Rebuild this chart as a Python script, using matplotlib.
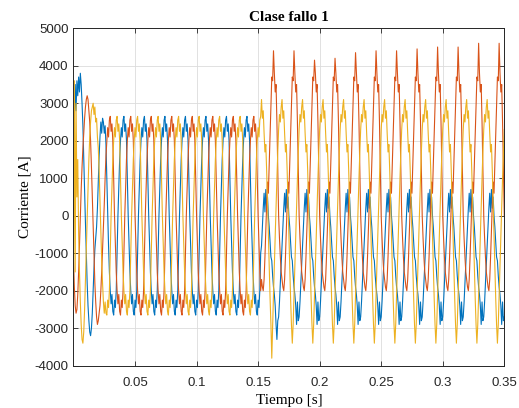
import numpy as np
import matplotlib.pyplot as plt

# Corrientes de fase, 24 muestras por ciclo de 60 Hz
fs = 1440
n_ciclo = 24
t_fin = 0.35
muestra_falla = 220

# Ciclo tipo antes de la falla [A], desde el cruce por cero ascendente
ciclo_pre = [0, 800, 1500, 2000, 2350, 2100, 2550, 2650, 2250, 2450, 2000, 1000,
             0, -800, -1500, -2000, -2350, -2100, -2550, -2650, -2250, -2450, -2000, -1000]
desfase_ia, desfase_ib, desfase_ic = 4, 12, 20

# Ciclo tipo durante la falla [A], muestra 0 = inicio de ciclo
ia_post = [-2700, -2300, -1800, -1300, -800, -300, 200, 600, 100, 700, 200, 500,
           0, -300, -700, -1100, -1200, -1600, -1900, -2100, -2400, -2900, -2300, -2800]
ib_post = [0, -600, -1100, -1500, -1700, -1900, -2000, -1700, -1100, -400, 300, 900,
           600, 1400, 2200, 3000, 3700, 3600, 4400, 3800, 3300, 3500, 2500, 1200]
ic_post = [2300, 2700, 2500, 2900, 3100, 2600, 2800, 2200, 1700, 1900, 1200, 400,
           -500, -1400, -2200, -2900, -3400, -2900, -2100, -1300, -500, 300, 1000, 1700]

# Picos de la fase B en cada ciclo con falla (ciclos 9 a 20)
picos_ib_post = [4400, 4400, 4150, 4200, 4350, 4400, 4400, 4450, 4500, 4500, 4600, 4600]
valle_ic_falla = -3800
valle_ia_falla = -3300

# Transitorio de arranque (dos primeros ciclos)
ia_arranque = [500, 2500, 3500, 2800, 3600, 3200, 3700, 3300, 3800, 3500, 3000, 2400,
               1500, 700, -200, -1000, -1800, -2400, -2800, -3100, -3200, -3000, -2600, -2000,
               -1400, -900, -600, -300, 200, 900, 1600, 2100, 2500, 2200, 2600, 2500,
               2200, 2400, 1900, 1000, 0, -800, -1500, -2000, -2350, -2100, -2550, -2650]
ib_arranque = [-1200, -1900, -2400, -2600, -2500, -2100, -1500, -800, 0, 700, 1300, 1800,
               2200, 2600, 2900, 3100, 3200, 3100, 2800, 2500, 2000, 1300, 500, -300,
               -1100, -1800, -2300, -2700, -2900, -2800, -2600, -2400, -2000, -1500, -900, -300,
               300, 1000, 1600, 2000, 2350, 2100, 2550, 2650, 2250, 2450, 2000, 1000]
ic_arranque = [-2000, 3600, -1500, 3000, 500, 1500, -500, -1500, -2300, -2900, -3300, -3400,
               -3100, -2500, -1700, -900, 0, 800, 1500, 2100, 2500, 2800, 2900, 3000,
               2700, 2900, 2500, 2600, 2100, 1800, 1200, 400, -400, -1200, -1800, -2300,
               -2600, -2300, -2600, -2650, -2250, -2450, -2000, -1000, 0, 800, 1500, 2000]

n = int(round(t_fin * fs)) + 1
idx = np.arange(n)
t = idx / fs
k = idx % n_ciclo
pre = idx < muestra_falla


def fase(desfase, post, arranque):
    i = np.where(pre, np.roll(ciclo_pre, desfase)[k], np.array(post)[k]).astype(float)
    i[:len(arranque)] = arranque
    return i


ia = fase(desfase_ia, ia_post, ia_arranque)
ib = fase(desfase_ib, ib_post, ib_arranque)
ic = fase(desfase_ic, ic_post, ic_arranque)
ib[n_ciclo * np.arange(9, 21) + 18] = picos_ib_post
ic[9 * n_ciclo + 16] = valle_ic_falla
ia[9 * n_ciclo + 22] = valle_ia_falla

plt.rcParams['font.family'] = 'Liberation Sans'
plt.rcParams['axes.unicode_minus'] = False

fig = plt.figure(figsize=(5.19, 4.08), dpi=100)
ax = fig.add_axes([0.1416, 0.1037, 0.830, 0.827])

ax.plot(t, ia, color='#0072BD', lw=0.8)
ax.plot(t, ib, color='#D95319', lw=0.8)
ax.plot(t, ic, color='#EDB120', lw=0.8)

ax.set_xlim(0, 0.35)
ax.set_ylim(-4000, 5000)
ax.set_xticks([0.05, 0.1, 0.15, 0.2, 0.25, 0.3, 0.35])
ax.set_xticklabels(['0.05', '0.1', '0.15', '0.2', '0.25', '0.3', '0.35'])
ax.set_yticks(range(-4000, 5001, 1000))
ax.grid(True, color='#dcdcdc', lw=0.6)
ax.set_axisbelow(True)
ax.tick_params(direction='in', top=True, right=True, length=3.5, width=0.6,
               colors='#262626', labelsize=9.5)
ax.tick_params(axis='x', pad=8.5)
ax.tick_params(axis='y', pad=3.5)
for sp in ax.spines.values():
    sp.set_color('#262626')
    sp.set_linewidth(0.7)

ax.set_title('Clase fallo 1', fontfamily='Liberation Serif', fontweight='bold',
             fontsize=11, pad=5)
ax.set_xlabel('Tiempo [s]', fontfamily='Liberation Serif', fontsize=11, labelpad=3)
ax.set_ylabel('Corriente [A]', fontfamily='Liberation Serif', fontsize=11, labelpad=2)

fig.savefig('out.png', dpi=100)
